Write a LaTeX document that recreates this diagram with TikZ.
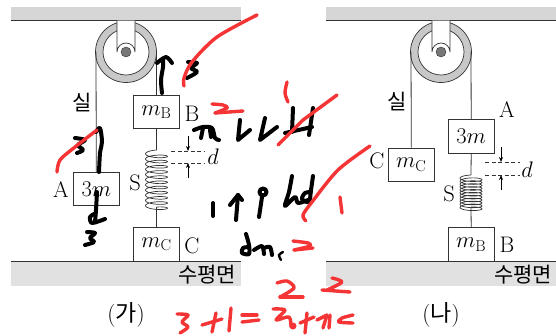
\RequirePackage{fix-cm}
\documentclass[tikz,border=0pt]{standalone}
\usepackage{fontspec}
\newfontfamily\krfont{Noto Sans CJK KR}
\usetikzlibrary{arrows.meta}
\definecolor{ceil}{HTML}{D6D6D6}
\definecolor{flr}{HTML}{E1E1E1}
\definecolor{ringc}{HTML}{C8C8C8}
\definecolor{axle}{HTML}{777777}
\definecolor{lin}{HTML}{333333}
\definecolor{pen}{HTML}{F53535}
\tikzset{
  boxn/.style={draw=lin,line width=0.8pt,fill=white,minimum width=45.5pt,minimum height=33.5pt,inner sep=0pt,font=\lab},
  txt/.style={inner sep=0pt,font=\lab,text=black},
  kr/.style={inner sep=0pt,font=\krlab,text=black},
  capn/.style={inner sep=0pt,font=\caplab,text=black},
  strg/.style={draw=lin,line width=0.8pt},
  dsh/.style={draw=lin,line width=0.7pt,dash pattern=on 4pt off 2.5pt},
  darr/.style={draw=black,line width=0.7pt,-{Stealth[length=5pt,width=4pt]}},
  blk/.style={draw=black,line width=4pt,line cap=round,line join=round},
  rdp/.style={draw=pen,line width=3.4pt,line cap=round,line join=round},
}
\newcommand{\lab}{\fontsize{22.5}{24}\selectfont}
\newcommand{\krlab}{\fontsize{21}{23}\selectfont\krfont}
\newcommand{\caplab}{\fontsize{23}{25}\selectfont}
% #1 centre x
\newcommand{\pulleyat}[1]{
  \fill[ceil] (#1-115,7) rectangle (#1+115,20);
  \draw[lin,line width=1pt] (#1-115,20) -- (#1+115,20);
  \draw[lin,line width=0.7pt,fill=ringc] (#1,52) circle (30.5);
  \draw[lin,line width=0.7pt,fill=white] (#1,52) circle (23);
  \draw[lin,line width=0.7pt,fill=white] (#1-9,20.5) -- (#1-9,52) arc (180:360:9) -- (#1+9,20.5);
  \fill[axle,draw=lin,line width=0.4pt] (#1,52) circle (5);
  \fill[flr] (#1-115,261) rectangle (#1+115,286);
  \draw[lin,line width=1pt] (#1-115,261) -- (#1+115,261);
}
% centre x, top y, bottom y, turns
\newcommand{\coil}[4]{
  \draw[lin,line width=0.7pt,smooth,samples=#4*24+1,domain=0:#4,variable=\t]
    plot ({#1-11*sin(360*\t)},{#2+(#3-#2-5)*\t/#4+2.5*(1-cos(360*\t))});
}
\begin{document}
\begin{tikzpicture}[x=1pt,y=-1pt]
\useasboundingbox (0,0) rectangle (556,335);
\fill[white] (0,0) rectangle (556,335);
\pulleyat{126}
\pulleyat{441}
%% (ga)
\coordinate (lpl) at (96,52);
\coordinate (lpr) at (156.5,52);
\node[boxn] (a) at (96.3,189) {$3m$};
\node[boxn] (b1) at (156.5,112) {$m_{\mathrm{B}}$};
\node[boxn] (c1) at (156.5,244.5) {$m_{\mathrm{C}}$};
\coordinate (s1t) at (156.5,150);
\coordinate (s1b) at (156.5,207);
\draw[strg] (lpl) -- (a.north);
\draw[strg] (lpr) -- (b1.north);
\draw[strg] (b1.south) -- (s1t);
\draw[strg] (s1b) -- (c1.north);
\coil{156.5}{150}{212}{11}
\node[txt] (la) at (61,190) {A};
\node[txt] (lb1) at (192,114) {B};
\node[txt] (lc1) at (192,246) {C};
\node[txt] (ls1) at (135,183) {S};
\node[kr] (sil1) at (82,103) {실};
\node[kr] (flr1) at (207,275) {수평면};
\node[capn] (ga) at (126,315) {({\krfont 가})};
\coordinate (d1a) at (171,151); \coordinate (d1ae) at (205,151);
\coordinate (d1b) at (171,163); \coordinate (d1be) at (205,163);
\draw[dsh] (d1a) -- (d1ae);
\draw[dsh] (d1b) -- (d1be);
\coordinate (a1s) at (188,136); \coordinate (a1e) at (188,151);
\coordinate (a2s) at (188,178); \coordinate (a2e) at (188,163);
\draw[darr] (a1s) -- (a1e);
\draw[darr] (a2s) -- (a2e);
\node[txt] (d1) at (213,157) {$d$};
%% (na)
\coordinate (rpl) at (411,52);
\coordinate (rpr) at (471,52);
\node[boxn] (m3) at (471.2,136.3) {$3m$};
\node[boxn] (c2) at (411.3,164.8) {$m_{\mathrm{C}}$};
\node[boxn] (b2) at (471.2,244.5) {$m_{\mathrm{B}}$};
\coordinate (s2t) at (471,175);
\coordinate (s2b) at (471,207);
\draw[strg] (rpl) -- (c2.north);
\draw[strg] (rpr) -- (m3.north);
\draw[strg] (m3.south) -- (s2t);
\draw[strg] (s2b) -- (b2.north);
\coil{471}{175}{212}{11}
\node[txt] (la2) at (507,110) {A};
\node[txt] (lb2) at (507,245) {B};
\node[txt] (lc2) at (377,161) {C};
\node[txt] (ls2) at (449,194) {S};
\node[kr] (sil2) at (397,102) {실};
\node[kr] (flr2) at (523,275) {수평면};
\node[capn] (na) at (441,315) {({\krfont 나})};
\coordinate (d2a) at (485,162); \coordinate (d2ae) at (520,162);
\coordinate (d2b) at (485,175); \coordinate (d2be) at (520,175);
\draw[dsh] (d2a) -- (d2ae);
\draw[dsh] (d2b) -- (d2be);
\coordinate (a3s) at (501,147); \coordinate (a3e) at (501,162);
\coordinate (a4s) at (501,190); \coordinate (a4e) at (501,175);
\draw[darr] (a3s) -- (a3e);
\draw[darr] (a4s) -- (a4e);
\node[txt] (d2) at (527,170) {$d$};
%% black handwriting
\draw[blk] plot[smooth] coordinates {(162,93) (161,80) (163,67) (163,60)};
\draw[blk] plot[smooth] coordinates {(157,63) (166,57) (172,63)};
\draw[blk] plot[smooth] coordinates {(188,62) (197,63) (191,68) (197,72) (187,78)};
\draw[blk] plot[smooth] coordinates {(99,172) (100,153) (102,142) (100,128) (96,132)};
\draw[blk] plot[smooth] coordinates {(97,192) (96,210) (95,222)};
\draw[blk] plot[smooth] coordinates {(105,219) (92,223) (90,217) (94,214)};
\draw[blk] plot[smooth] coordinates {(87,232) (95,233) (90,238) (94,242) (85,245)};
\draw[blk] plot[smooth] coordinates {(75,138) (85,140) (78,145) (83,150) (77,153)};
\draw[blk] plot[smooth] coordinates {(194,130) (203,127) (212,128) (215,138) (219,140)};
\draw[blk] plot[smooth] coordinates {(203,128) (201,138)};
\draw[blk] plot[smooth] coordinates {(210,130) (211,137)};
\draw[blk] (240,120) -- (238,140) -- (250,130);
\draw[blk] (265,118) -- (260,140) -- (277,127);
\draw[blk] (293,108) -- (292,132);
\draw[blk] (285,133) -- (312,127);
\draw[blk] (313,108) -- (309,135);
\draw[blk] (213,203) -- (213,216);
\draw[blk] (238,195) -- (236,220);
\draw[blk] (230,205) -- (238,195) -- (242,200);
\draw[blk] (263,192) circle (3.5);
\draw[blk] (262,197) -- (259,217);
\draw[blk] plot[smooth] coordinates {(292,176) (289,192) (285,206) (295,197) (298,203) (308,200)};
\draw[blk] plot[smooth] coordinates {(313,176) (311,190) (309,202) (302,199) (305,193) (311,192)};
\draw[blk] plot[smooth] coordinates {(246,234) (249,245) (249,254) (242,253) (243,248) (249,247)};
\draw[blk] plot[smooth] coordinates {(254,250) (262,246) (264,254)};
\draw[blk] plot[smooth] coordinates {(264,248) (270,247) (272,255)};
\draw[line width=2.4pt,line cap=round] plot[smooth] coordinates {(283,252) (279,255) (281,260)};
%% red handwriting
\draw[rdp] plot[smooth] coordinates {(257,15) (217,37) (192,62) (184,78) (184,86)};
\draw[rdp] plot[smooth] coordinates {(97,130) (75,147) (60,160) (57,172)};
\draw[rdp] plot[smooth] coordinates {(212,104) (223,105) (227,108) (215,113)};
\draw[rdp] (215,113) -- (243,111);
\draw[rdp] (337,95) -- (303,120) -- (278,145);
\draw[rdp] plot[smooth] coordinates {(287,82) (285,93) (288,102)};
\draw[rdp] plot[smooth] coordinates {(370,146) (338,170) (312,202) (303,215) (306,221)};
\draw[rdp] (340,197) -- (342,213);
\draw[rdp] plot[smooth] coordinates {(293,241) (308,243) (310,246) (294,250)};
\draw[rdp] (294,250) -- (313,248);
\draw[rdp] plot[smooth] coordinates {(177,314) (188,315) (182,322) (188,327) (180,333)};
\draw[rdp] (202,325) -- (222,319);
\draw[rdp] (216,313) -- (212,332);
\draw[rdp] (231,308) -- (229,331);
\draw[rdp] (242,315) -- (257,315);
\draw[rdp] (242,322) -- (259,320);
\draw[rdp] plot[smooth] coordinates {(277,283) (287,281) (294,288) (280,297)};
\draw[rdp] (280,297) -- (303,297);
\draw[rdp] plot[smooth] coordinates {(332,278) (342,282) (327,290)};
\draw[rdp] (322,290) -- (350,292);
\draw[rdp] plot[smooth] coordinates {(273,309) (285,310) (276,320) (289,317) (291,327)};
\fill[pen] (293,326) circle (3.5);
\draw[rdp] (300,323) -- (314,317);
\draw[rdp] (307,313) -- (305,333);
\draw[rdp] (317,320) -- (327,315) -- (323,328);
\draw[rdp] (330,315) -- (329,328);
\draw[rdp] plot[smooth] coordinates {(353,315) (342,318) (339,322) (353,323)};
\end{tikzpicture}
\end{document}
